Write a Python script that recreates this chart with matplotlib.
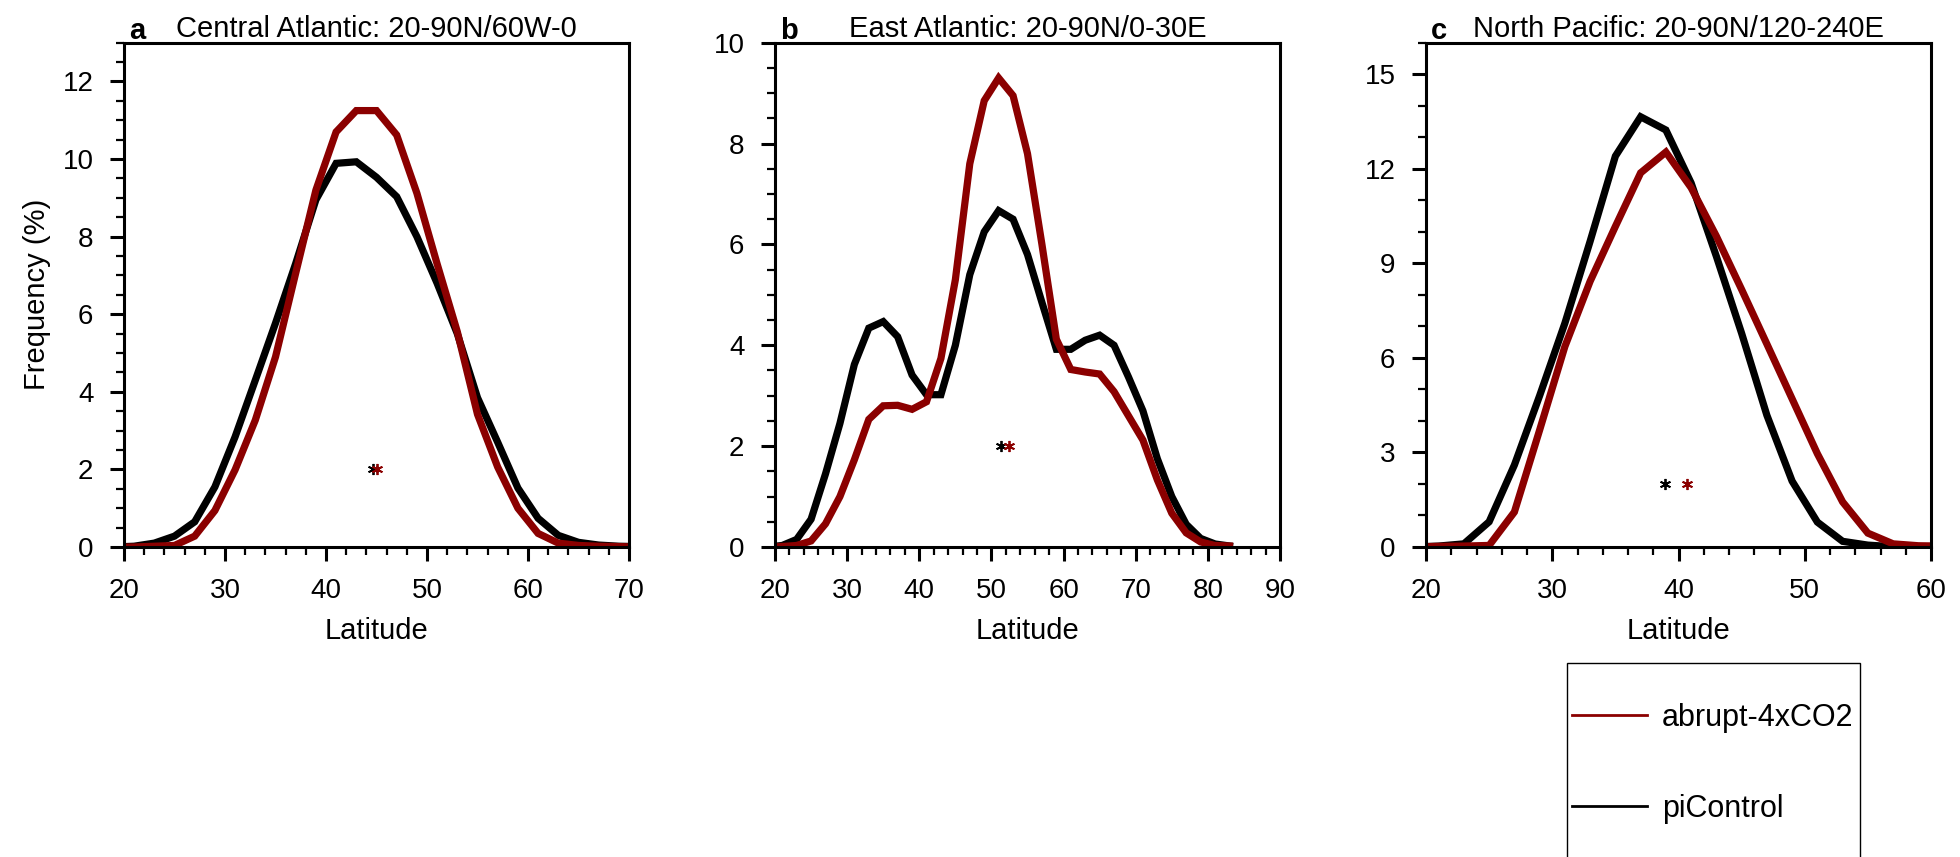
import numpy as np
import matplotlib
matplotlib.use('Agg')
import matplotlib.pyplot as plt
from matplotlib.ticker import MultipleLocator
from matplotlib.patches import Rectangle
from matplotlib.lines import Line2D

plt.rcParams['font.family'] = ['Liberation Sans', 'DejaVu Sans']

# frequency (%) of blocking vs latitude, 2-degree bins centred on odd latitudes
lat_a = np.arange(19, 72, 2)
pi_a = [0.0, 0.02, 0.1, 0.28, 0.65, 1.55, 2.84, 4.3, 5.77, 7.31, 8.95, 9.89, 9.93, 9.53,
        9.03, 8.0, 6.8, 5.5, 3.85, 2.7, 1.52, 0.74, 0.3, 0.12, 0.05, 0.02, 0.01]
x4_a = [0.0, 0.0, 0.02, 0.04, 0.28, 0.94, 1.99, 3.27, 4.9, 7.06, 9.2, 10.7, 11.25, 11.25,
        10.62, 9.12, 7.3, 5.55, 3.42, 2.06, 1.0, 0.35, 0.1, 0.04, 0.02, 0.01, 0.0]

lat_b = np.arange(19, 84, 2)
pi_b = [0.0, 0.03, 0.15, 0.55, 1.45, 2.45, 3.62, 4.34, 4.47, 4.17, 3.41, 3.02, 3.02, 4.0,
        5.4, 6.25, 6.67, 6.5, 5.8, 4.85, 3.92, 3.92, 4.1, 4.2, 4.0, 3.37, 2.7, 1.75, 1.0,
        0.45, 0.17, 0.06, 0.02]
x4_b = [0.0, 0.01, 0.03, 0.12, 0.46, 1.0, 1.73, 2.53, 2.8, 2.81, 2.73, 2.88, 3.74, 5.3,
        7.6, 8.85, 9.3, 8.95, 7.8, 6.0, 4.12, 3.52, 3.47, 3.43, 3.08, 2.6, 2.12, 1.33, 0.67,
        0.28, 0.1, 0.03, 0.02]

lat_c = np.arange(19, 62, 2)
pi_c = [0.0, 0.03, 0.1, 0.8, 2.6, 4.8, 7.1, 9.7, 12.4, 13.65, 13.23, 11.55, 9.22, 6.78,
        4.18, 2.09, 0.79, 0.18, 0.06, 0.01, 0.0, 0.0]
x4_c = [0.0, 0.02, 0.03, 0.05, 1.11, 3.71, 6.36, 8.43, 10.17, 11.87, 12.53, 11.4, 9.86,
        8.17, 6.44, 4.7, 2.96, 1.43, 0.44, 0.1, 0.04, 0.03]

# mean latitude of each distribution
mean_pi = [44.68, 51.3, 38.9]
mean_x4 = [45.05, 52.5, 40.7]

letters = ['a', 'b', 'c']
titles = ['Central Atlantic: 20-90N/60W-0', 'East Atlantic: 20-90N/0-30E',
          'North Pacific: 20-90N/120-240E']
xlims = [(20, 70), (20, 90), (20, 60)]
ylims = [(0, 13), (0, 10), (0, 16)]
ymajor = [2, 2, 3]
yminor = [0.5, 0.5, 1]

red = '#8b0000'

fig = plt.figure(figsize=(19.6, 8.57), dpi=100)
W, H = 1960, 857
lefts = [124, 775, 1426]
axes = [fig.add_axes([l / W, 1 - 547 / H, 505 / W, (547 - 42.7) / H]) for l in lefts]

data = [(lat_a, pi_a, x4_a), (lat_b, pi_b, x4_b), (lat_c, pi_c, x4_c)]
for i, ax in enumerate(axes):
    lat, pi, x4 = data[i]
    ax.plot(lat, pi, color='black', lw=5.2, solid_joinstyle='miter')
    ax.plot(lat, x4, color=red, lw=5.2, solid_joinstyle='miter')
    ax.plot(mean_pi[i], 2, marker=(6, 2, 0), color='black', ms=8, mew=1.3, ls='none')
    ax.plot(mean_x4[i], 2, marker=(6, 2, 0), color=red, ms=8, mew=1.3, ls='none')
    ax.set_xlim(*xlims[i])
    ax.set_ylim(*ylims[i])
    ax.xaxis.set_major_locator(MultipleLocator(10))
    ax.xaxis.set_minor_locator(MultipleLocator(2))
    ax.yaxis.set_major_locator(MultipleLocator(ymajor[i]))
    ax.yaxis.set_minor_locator(MultipleLocator(yminor[i]))
    ax.tick_params(which='major', direction='out', length=10, width=2.2, labelsize=20, pad=12)
    ax.tick_params(which='minor', direction='out', length=5.5, width=1.6)
    ax.tick_params(top=False, right=False, which='both')
    for s in ax.spines.values():
        s.set_linewidth(2.2)
    ax.set_xlabel('Latitude', fontsize=21, labelpad=10)
    ax.set_title(titles[i], fontsize=21, pad=2)
    ax.annotate(letters[i], xy=(0, 1), xycoords='axes fraction', xytext=(5, 4),
                textcoords='offset pixels', fontsize=21, fontweight='bold',
                ha='left', va='baseline')

axes[0].set_ylabel('Frequency (%)', fontsize=21, labelpad=8)

# legend box runs off the bottom edge
fig.patches.append(Rectangle((1567 / W, -0.1), (1860 - 1567) / W, 0.1 + 1 - 663 / H,
                             transform=fig.transFigure, fill=False, lw=1, ec='black'))
handles = [Line2D([], [], color=red, lw=2), Line2D([], [], color='black', lw=2)]
fig.legend(handles, ['abrupt-4xCO2', 'piControl'], loc='upper left',
           bbox_to_anchor=(1572 / W, 1 - 703 / H), frameon=False, fontsize=22,
           borderpad=0, borderaxespad=0, handlelength=2.45, handletextpad=0.5,
           labelspacing=2.0)

fig.savefig('out.png', dpi=100)
